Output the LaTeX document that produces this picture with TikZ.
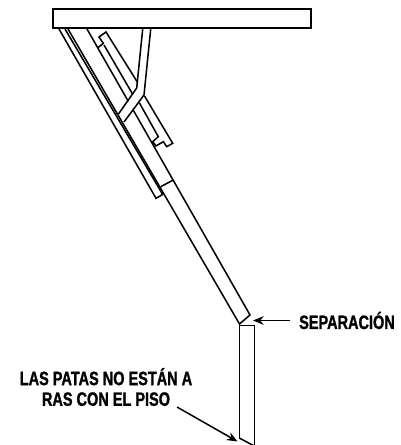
\documentclass[tikz,border=0pt]{standalone}
\usepackage{fontspec}
\setmainfont[FakeStretch=0.75,BoldFeatures={FakeBold=1.2}]{Liberation Sans}
\usepackage{tikz}
\usetikzlibrary{arrows.meta}
\tikzstyle{part} = [draw=black, line width=1.15pt, line join=miter]
\tikzstyle{board} = [part, line width=1.8pt]
\tikzstyle{callout} = [font={\fontsize{14.5pt}{15.5pt}\selectfont\bfseries}, inner sep=0pt, align=center]
\tikzstyle{pointer} = [draw=black, line width=1.15pt, -{Stealth[length=8pt,width=6.5pt]}]

\begin{document}
\begin{tikzpicture}[x=0.75pt,y=-0.75pt]
    \useasboundingbox (0,0) rectangle (400,445);
    \node[callout](sepLabel) at (347,320.5){SEPARACIÓN};
    \node[callout](rasLabel) at (106,387){LAS PATAS NO ESTÁN A\\RAS CON EL PISO};
    \coordinate (sepTip) at (253,320.5);
    \coordinate (rasTail) at (177,407);
    \coordinate (rasTip) at (237.5,441.5);
    % table top
    \draw[board] (53,9) rectangle (311,28);
    % upper leg and its sleeve
    \draw[part] (59,29) -- (156,198.3) -- (162.7,194.5) -- (65,29);
    \draw[part] (68,29) -- (239.5,324) -- (250,315) -- (133.3,110.2);
    \draw[part] (87,29) -- (128.3,101.4);
    \draw[part] (160.7,186.7) -- (173.3,180);
    % brace
    \draw[part] (142.7,29) -- (136.7,88) -- (118.5,114);
    \draw[part] (150.7,29) -- (144,95) -- (124,122);
    % slide bracket
    \draw[part] (137.3,82) -- (106,32) -- (99,37) -- (103.3,43.3) -- (98,47.7);
    \draw[part] (104,45) -- (132.8,94.5);
    \draw[part] (144.5,96) -- (172.7,143.3) -- (166.7,146.7) -- (163.3,141.7) -- (156,146) -- (152.7,141.7) -- (158.3,136.7) -- (139.3,102.7);
    % lower leg
    \draw[part] (239.3,438) -- (239.3,325.5) -- (254.3,325.5) -- (254.3,446);
    \draw[part] (239.3,438) -- (254.3,446);
    \draw[pointer,shorten <=6.5pt](sepLabel.west)--(sepTip);
    \draw[pointer](rasTail)--(rasTip);
  \end{tikzpicture}
\end{document}
